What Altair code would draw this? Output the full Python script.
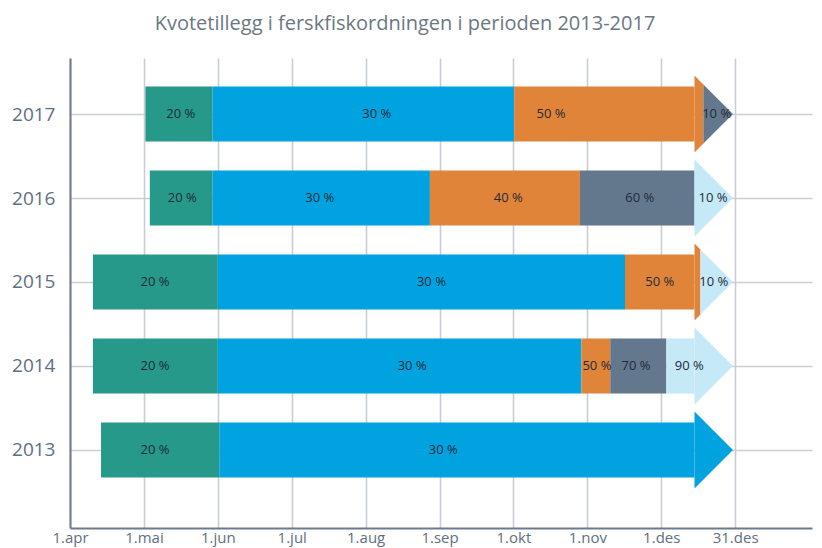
import altair as alt
import pandas as pd

# ---- data (x in month units: 0 = 1.apr, 1 = 1.mai, ... 9 = 31.des)
tick_labels = ["1.apr", "1.mai", "1.jun", "1.jul", "1.aug", "1.sep", "1.okt", "1.nov", "1.des", "31.des"]
years = [2017, 2016, 2015, 2014, 2013]

seg_year = [2017] * 4 + [2016] * 5 + [2015] * 4 + [2014] * 5 + [2013] * 2
seg_start = [1.02, 1.93, 6.01, 8.57,
             1.08, 1.93, 4.87, 6.90, 8.45,
             0.31, 2.00, 7.51, 8.53,
             0.31, 2.00, 6.92, 7.31, 8.07,
             0.42, 2.02]
seg_end = [1.93, 6.01, 8.57, 8.97,
           1.93, 4.87, 6.90, 8.45, 8.97,
           2.00, 7.51, 8.53, 8.97,
           2.00, 6.92, 7.31, 8.07, 8.97,
           2.02, 8.97]
seg_tier = ["P1", "P2", "P3", "P4",
            "P1", "P2", "P3", "P4", "P5",
            "P1", "P2", "P3", "P5",
            "P1", "P2", "P3", "P4", "P5",
            "P1", "P2"]
seg_label = ["20 %", "30 %", "50 %", "10 %",
             "20 %", "30 %", "40 %", "60 %", "10 %",
             "20 %", "30 %", "50 %", "10 %",
             "20 %", "30 %", "50 %", "70 %", "90 %",
             "20 %", "30 %"]
label_x = [1.50, 4.15, 6.51, 8.75,
           1.52, 3.38, 5.93, 7.71, 8.70,
           1.15, 4.89, 7.98, 8.71,
           1.15, 4.63, 7.13, 7.66, 8.38,
           1.15, 5.05]

tiers = ["P1", "P2", "P3", "P4", "P5"]
tier_colors = ["#26998b", "#00a3df", "#e0843a", "#64788d", "#c6e9f8"]

# ---- shape constants (styling)
ARROW_BASE = 8.45
ARROW_TIP = 8.97
BAR_HALF = 0.327
ARROW_HALF = 0.458

body_rows, arrow_rows, label_rows = [], [], []
for i in range(len(seg_year)):
    yr, s, e, t = seg_year[i], seg_start[i], seg_end[i], seg_tier[i]
    if s < ARROW_BASE:
        body_rows.append(dict(x=s, x2=min(e, ARROW_BASE), y=yr - BAR_HALF, y2=yr + BAR_HALF, tier=t))
    if e > ARROW_BASE:
        for xv in (max(s, ARROW_BASE), min(e, ARROW_TIP)):
            h = ARROW_HALF * (ARROW_TIP - xv) / (ARROW_TIP - ARROW_BASE)
            arrow_rows.append(dict(x=xv, y=yr - h, y2=yr + h, tier=t, seg=i))
    label_rows.append(dict(x=label_x[i], y=yr, label=seg_label[i]))

body = pd.DataFrame(body_rows)
arrows = pd.DataFrame(arrow_rows)
labels = pd.DataFrame(label_rows)

xscale = alt.Scale(domain=[0, 10.04], nice=False, zero=False)
yscale = alt.Scale(domain=[2012.071, 2017.667], nice=False, zero=False)
color = alt.Color("tier:N", scale=alt.Scale(domain=tiers, range=tier_colors), legend=None)

label_expr = "[" + ",".join("'" + s + "'" for s in tick_labels) + "][datum.value]"

x_axis = alt.Axis(values=list(range(len(tick_labels))), labelExpr=label_expr, grid=True,
                  gridColor="#c9cdd6", gridWidth=1.6, ticks=False, domainColor="#6b7b8c",
                  domainWidth=2, labelColor="#5f6f80", labelFontSize=15, labelPadding=2,
                  labelFont="Open Sans", labelOverlap=False, labelFlush=False, title=None)
y_axis = alt.Axis(values=years, format="d", grid=True, gridColor="#c9cdd6", gridWidth=1.6,
                  ticks=False, domainColor="#6b7b8c", domainWidth=2, labelColor="#5f6f80",
                  labelFontSize=19, labelPadding=15, labelFont="Open Sans", title=None)

X = alt.X("x:Q", scale=xscale, axis=x_axis, title=None)
Y = alt.Y("y:Q", scale=yscale, axis=y_axis, title=None)

rects = alt.Chart(body).mark_rect().encode(x=X, x2="x2:Q", y=Y, y2="y2:Q", color=color)

heads = alt.Chart(arrows).mark_area(orient="vertical").encode(
    x=X, y=Y, y2="y2:Q", color=color, detail="seg:N",
)

texts = alt.Chart(labels).mark_text(font="Open Sans", fontSize=13, color="#1e2b38").encode(
    x=X, y=Y, text="label:N",
)

chart = alt.layer(rects, heads, texts).properties(
    width=742,
    height=470,
    autosize=alt.AutoSizeParams(type="none"),
    padding={"left": 62, "top": 50, "right": 2, "bottom": 20},
    title=alt.Title("Kvotetillegg i ferskfiskordningen i perioden 2013-2017", font="Open Sans",
                    fontSize=20, fontWeight="normal", color="#6b7782", anchor="middle",
                    dx=-36, offset=24),
).configure_view(stroke=None)

chart.save("out.html", embed_options={"renderer": "svg", "actions": False})
